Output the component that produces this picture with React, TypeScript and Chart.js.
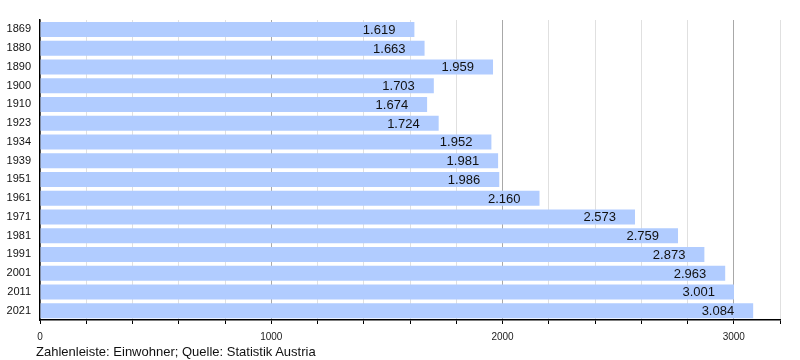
import React, { useEffect, useRef } from "react";
import { Chart, registerables } from "chart.js";

Chart.register(...registerables);

const years = ["1869", "1880", "1890", "1900", "1910", "1923", "1934", "1939", "1951", "1961", "1971", "1981", "1991", "2001", "2011", "2021"];
const population = [1619, 1663, 1959, 1703, 1674, 1724, 1952, 1981, 1986, 2160, 2573, 2759, 2873, 2963, 3001, 3084];
const caption = "Zahlenleiste: Einwohner; Quelle: Statistik Austria";
const xMax = 3200;
const xStep = 200;

const fmt = (v: number) => {
  const s = String(v);
  return s.length > 3 ? s.slice(0, s.length - 3) + "." + s.slice(s.length - 3) : s;
};

const valueLabels = {
  id: "valueLabels",
  afterDatasetsDraw(chart: any) {
    const ctx = chart.ctx;
    const meta = chart.getDatasetMeta(0);
    ctx.save();
    ctx.font = '13px "Liberation Sans", Arial, sans-serif';
    ctx.fillStyle = "#111";
    ctx.textAlign = "right";
    ctx.textBaseline = "middle";
    meta.data.forEach((bar: any, i: number) => {
      ctx.fillText(fmt(population[i]), bar.x - 19, bar.y + 1);
    });
    ctx.restore();
  },
};

export default function App() {
  const ref = useRef<HTMLCanvasElement>(null);
  useEffect(() => {
    document.body.style.margin = "0";
    const chart = new Chart(ref.current!, {
      type: "bar",
      data: {
        labels: years,
        datasets: [
          {
            data: population,
            backgroundColor: "rgb(177,204,255)",
            borderWidth: 0,
            barPercentage: 0.8,
            categoryPercentage: 1,
          },
        ],
      },
      options: {
        indexAxis: "y",
        animation: false,
        responsive: false,
        layout: { padding: { top: 20, right: 20, left: 0, bottom: 0 } },
        plugins: { legend: { display: false }, tooltip: { enabled: false } },
        scales: {
          x: {
            min: 0,
            max: xMax,
            afterFit: (s: any) => { s.height = 40; },
            ticks: {
              stepSize: xStep,
              autoSkip: false,
              maxRotation: 0,
              padding: 7,
              color: "#222",
              font: { family: '"Liberation Sans", Arial, sans-serif', size: 10 },
              callback: (v: any) => (Number(v) % 1000 === 0 ? String(v) : ""),
            },
            grid: {
              color: (c: any) => (c.tick && c.tick.value % 1000 === 0 ? "#a8a8a8" : "#e0e0e0"),
              tickColor: "#000",
              tickLength: 4,
              lineWidth: 1,
            },
            border: { display: true, color: "#000", width: 1.5 },
          },
          y: {
            afterFit: (s: any) => { s.width = 40; },
            ticks: {
              color: "#111",
              padding: 9,
              font: { family: '"Liberation Sans", Arial, sans-serif', size: 11 },
            },
            grid: { display: false, drawTicks: false },
            border: { display: true, color: "#000", width: 1.5 },
          },
        },
      },
      plugins: [valueLabels],
    });
    return () => chart.destroy();
  }, []);
  return (
    <div style={{ position: "relative", width: 800, height: 360 }}>
      <canvas ref={ref} width={800} height={360} style={{ display: "block" }} />
      <div
        style={{
          position: "absolute",
          left: 36,
          top: 344,
          fontFamily: '"Liberation Sans", Arial, sans-serif',
          fontSize: 13,
          lineHeight: "15px",
          color: "#111",
        }}
      >
        {caption}
      </div>
    </div>
  );
}
